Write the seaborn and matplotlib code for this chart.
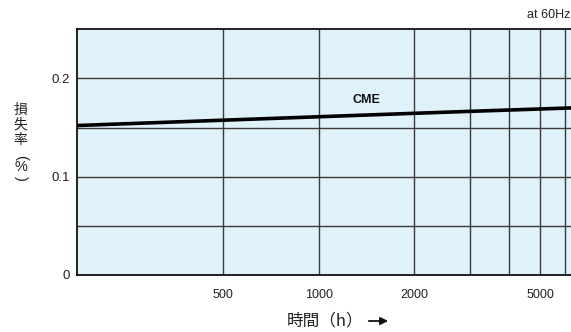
import matplotlib
matplotlib.use("Agg")
import matplotlib.pyplot as plt
import seaborn as sns
import pandas as pd
from matplotlib.ticker import FixedLocator, NullFormatter

# ---- data ----
hours = [170, 500, 1000, 2000, 3000, 6300]
loss = [0.152, 0.1575, 0.161, 0.1645, 0.1665, 0.170]
xtick_major = [500, 1000, 2000, 5000]
xtick_labels = ["500", "1000", "2000", "5000"]
xtick_minor = [3000, 4000, 6000]
ytick_major = [0, 0.1, 0.2]
ytick_labels = ["0", "0.1", "0.2"]
ytick_minor = [0.05, 0.15]
series_name = "CME"

sns.set_style("white")
plt.rcParams['font.family'] = ['Liberation Sans', 'Noto Sans CJK JP', 'DejaVu Sans']

W, H = 571, 332
fig = plt.figure(figsize=(W / 100, H / 100), dpi=100)
ax = fig.add_axes([0.1343, 0.1717, 0.8657, 0.7401])
ax.set_facecolor('#dff2fa')

df = pd.DataFrame({"h": hours, "loss": loss})
sns.lineplot(data=df, x="h", y="loss", color="black", linewidth=2.6, ax=ax, zorder=5)

ax.set_xscale('log')
ax.set_xlim(172.4, 6261)
ax.set_ylim(0, 0.25)

ax.xaxis.set_major_locator(FixedLocator(xtick_major))
ax.set_xticklabels(xtick_labels)
ax.xaxis.set_minor_locator(FixedLocator(xtick_minor))
ax.xaxis.set_minor_formatter(NullFormatter())
ax.yaxis.set_major_locator(FixedLocator(ytick_major))
ax.set_yticklabels(ytick_labels)
ax.yaxis.set_minor_locator(FixedLocator(ytick_minor))

ax.tick_params(axis='x', which='both', length=0, pad=10, labelsize=9, colors='#222222')
ax.tick_params(axis='y', which='both', length=0, pad=5, labelsize=9.5, colors='#222222')
ax.grid(True, which='both', color='#3a3a3a', linewidth=1.0)
ax.set_axisbelow(True)
for side in ['left', 'bottom', 'top']:
    ax.spines[side].set_color('black')
    ax.spines[side].set_linewidth(1.2)
ax.spines['right'].set_visible(False)
ax.set_xlabel("")
ax.set_ylabel("")

ax.text(1419, 0.178, series_name, ha='center', va='center', fontsize=9,
        fontweight='bold', color='#111111')

fig.text(527 / W, 1 - 15 / H, "at 60Hz", ha='left', va='center', fontsize=9,
         color='#222222')

cjk = ['Noto Sans CJK JP', 'DejaVu Sans']
# x-axis title with arrow
fig.text(287 / W, 1 - 321 / H, "時間（h）", ha='left', va='center', fontsize=12,
         family=cjk, color='#222222')
fig.add_artist(matplotlib.patches.FancyArrowPatch(
    (366 / W, 1 - 321 / H), (391 / W, 1 - 321 / H), transform=fig.transFigure,
    arrowstyle='-|>,head_length=4.5,head_width=2.2', linewidth=1.3, color='#111111',
    mutation_scale=1))

# vertical y-axis title
for ch, yp in zip(["損", "失", "率"], [110, 125, 140]):
    fig.text(20.7 / W, 1 - yp / H, ch, ha='center', va='center', fontsize=10,
             family=cjk, color='#222222')
fig.text(20.7 / W, 1 - 157.5 / H, "(", ha='center', va='center', fontsize=10.5,
         rotation=-90, color='#222222')
fig.text(20.7 / W, 1 - 167.5 / H, "%", ha='center', va='center', fontsize=10.5,
         color='#222222')
fig.text(20.7 / W, 1 - 178 / H, ")", ha='center', va='center', fontsize=10.5,
         rotation=-90, color='#222222')

fig.savefig("out.png", dpi=100)
